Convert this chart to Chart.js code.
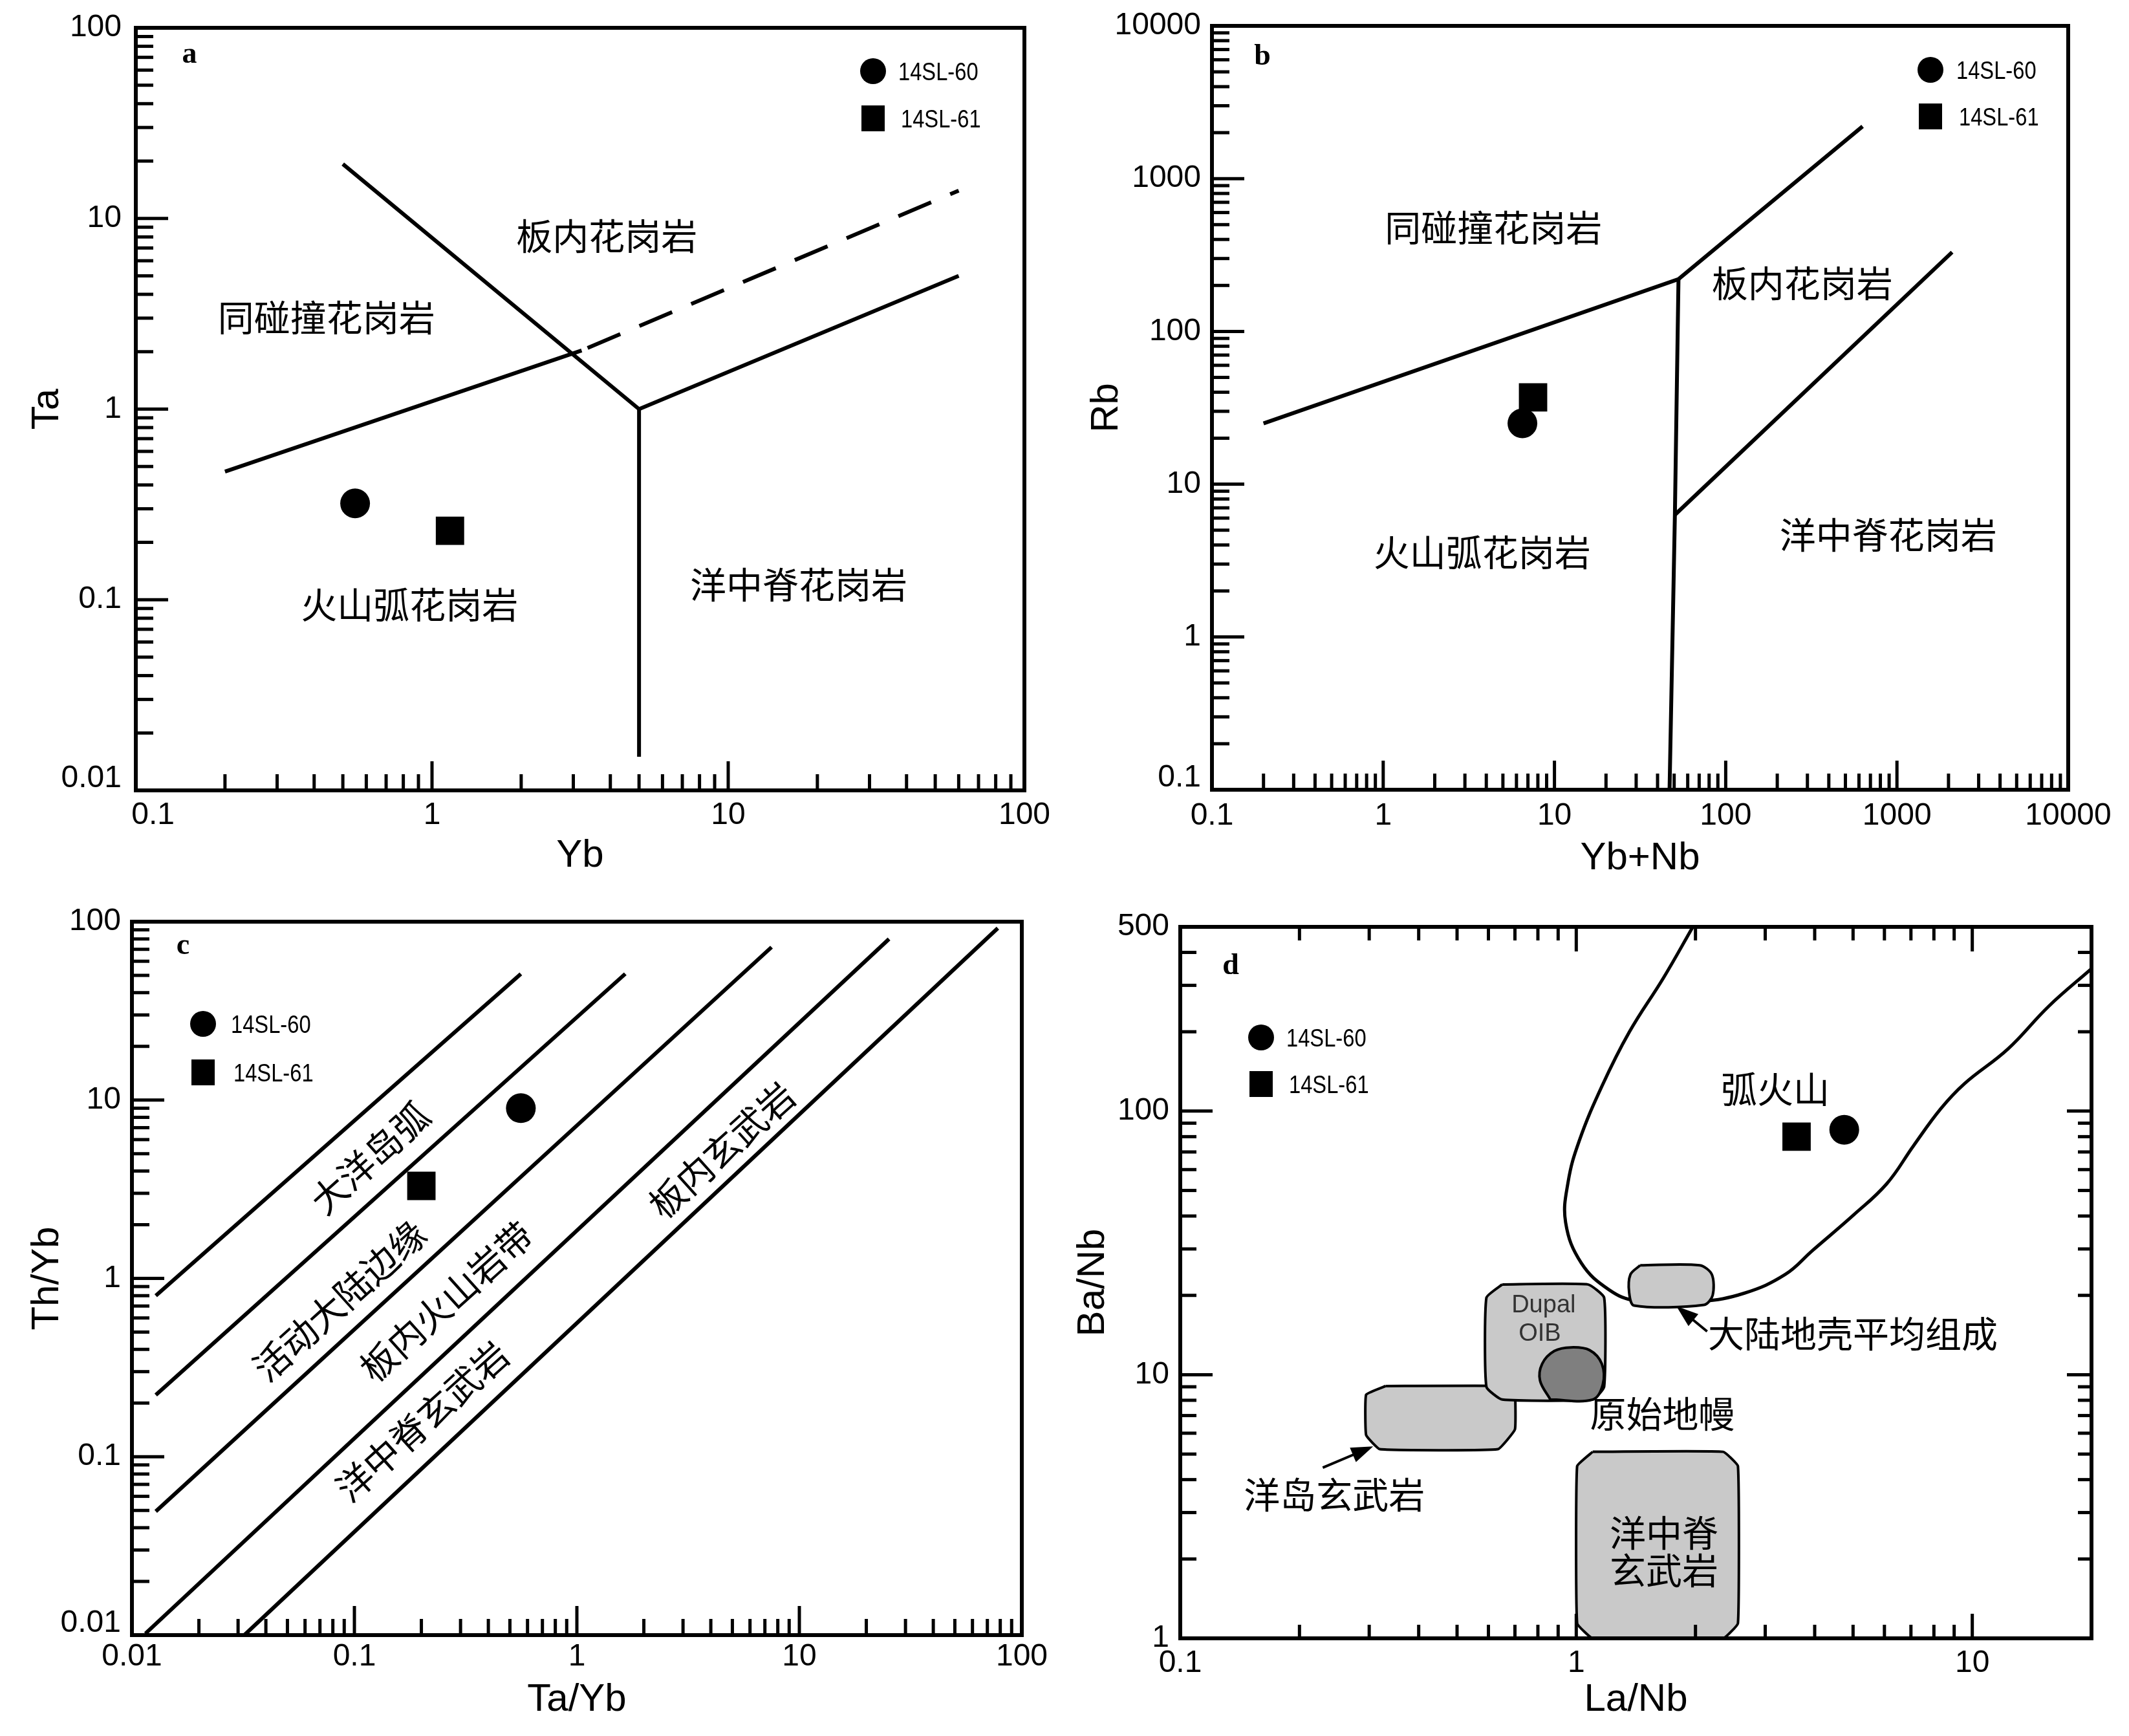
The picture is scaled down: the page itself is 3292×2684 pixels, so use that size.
<!DOCTYPE html>
<html lang="zh">
<head>
<meta charset="utf-8">
<title>Tectonic discrimination diagrams</title>
<script src="https://cdn.jsdelivr.net/npm/chart.js@4.4.1/dist/chart.umd.min.js"></script>
<style>
  html, body { margin: 0; padding: 0; background: #fff; }
  #page { position: relative; width: 3292px; height: 2684px; background: #fff; }
  #page canvas { position: absolute; }
</style>
</head>
<body>
<div id="page">
  <canvas id="chartA" width="1646" height="1380" style="left:0;top:0"></canvas>
  <canvas id="chartB" width="1646" height="1380" style="left:1646px;top:0"></canvas>
  <canvas id="chartC" width="1646" height="1304" style="left:0;top:1380px"></canvas>
  <canvas id="chartD" width="1646" height="1304" style="left:1646px;top:1380px"></canvas>
</div>
<script>
const samples = ['14SL-60', '14SL-61'];

// a) Ta vs Yb
const aXTicks = [0.1, 1, 10, 100];
const aYTicks = [0.01, 0.1, 1, 10, 100];
const aYb = [0.55, 1.15];
const aTa = [0.32, 0.23];
const aLineSynVag = [[0.2, 0.47], [3.2, 2.03]];
const aLineSynWpgDash = [[3.2, 2.03], [60, 14]];
const aLineSynUpper = [[0.5, 19.3], [5, 1]];
const aLineWpgOrg = [[5, 1], [60, 5]];
const aLineVagOrg = [[5, 1], [5, 0.015]];

// b) Rb vs Yb+Nb
const bXTicks = [0.1, 1, 10, 100, 1000, 10000];
const bYTicks = [0.1, 1, 10, 100, 1000, 10000];
const bYbNb = [6.5, 7.5];
const bRb = [25, 37];
const bLineSynVag = [[0.2, 25], [53, 220], [630, 2200]];
const bLineVagWpg = [[53, 220], [50.5, 6.3], [47, 0.1]];
const bLineWpgOrg = [[50.5, 6.3], [2100, 330]];

// c) Th/Yb vs Ta/Yb
const cXTicks = [0.01, 0.1, 1, 10, 100];
const cYTicks = [0.01, 0.1, 1, 10, 100];
const cTaYb = [0.56, 0.2];
const cThYb = [9, 3.3];
const cLine1 = [[0.0128, 0.8], [0.56, 51]];
const cLine2 = [[0.0128, 0.222], [1.65, 51]];
const cLine3 = [[0.0128, 0.0494], [7.5, 72]];
const cLine4 = [[0.0115, 0.0102], [25.3, 80]];
const cLine5 = [[0.032, 0.01], [78, 92]];

// d) Ba/Nb vs La/Nb
const dXTicks = [0.1, 1, 10];
const dYTicks = [1, 10, 100, 500];
const dLaNb = [4.75, 3.6];
const dBaNb = [85, 80];
const dArcField = [[1.97, 500], [1.66, 320], [1.36, 199], [1.16, 124], [1.017, 77], [0.954, 54], [0.94, 37.8],
  [1.03, 26.5], [1.21, 21], [1.416, 19.1], [2.06, 19.0], [2.66, 20.4], [3.37, 24.0], [3.95, 29.6], [5.0, 40.2],
  [6.08, 53], [7.11, 74], [8.32, 102], [9.55, 127], [12.3, 172], [15.6, 250], [20, 347]];
const dCrustBox = [[1.45, 26], [2.05, 26], [2.2, 24], [2.21, 20], [2.1, 18.4], [1.4, 18.3], [1.36, 20.5], [1.37, 24]];
const dDupalBox = [[0.65, 22], [1.07, 22], [1.176, 19.6], [1.176, 9.0], [1.10, 8.05], [0.65, 8.05], [0.593, 9.0], [0.593, 19.6]];
const dPrimMantle = [[0.86, 8.05], [0.81, 9.5], [0.82, 11], [0.88, 12.3], [0.97, 12.7], [1.08, 12.4], [1.16, 11], [1.167, 9.2], [1.10, 8.05]];
const dOibBox = [[0.33, 9.06], [0.68, 9.06], [0.70, 8.7], [0.70, 6.2], [0.634, 5.22], [0.319, 5.22], [0.2947, 5.9], [0.2947, 8.4]];
const dMorbBox = [[1.10, 5.1], [2.35, 5.1], [2.56, 4.5], [2.56, 1.14], [2.35, 1.0], [1.10, 1.0], [1.005, 1.14], [1.005, 4.5]];

// fonts
const SANS = "'Liberation Sans', Arial, sans-serif";
const CJK = "'Noto Sans CJK SC', sans-serif";
const xTickFont = { family: SANS, size: 48 };
const yTickFont = { family: SANS, size: 48, lineHeight: 0.75 };
const titleFont = { family: SANS, size: 60 };
const cjkFont = '56px ' + CJK;

const xy = (pairs) => pairs.map(([x, y]) => ({ x, y }));

function line(pairs, extra) {
  return Object.assign({
    data: xy(pairs), showLine: true, borderColor: '#000', borderWidth: 6,
    pointRadius: 0, pointHoverRadius: 0, fill: false, tension: 0
  }, extra);
}

function shape(pairs, color, tension) {
  return line(pairs.concat([pairs[0]]), { fill: 'shape', backgroundColor: color, borderWidth: 4, tension: tension });
}

function sample(xs, ys, i) {
  const r = i === 0 ? 23 : 31;
  return {
    data: [{ x: xs[i], y: ys[i] }], showLine: false,
    pointStyle: i === 0 ? 'circle' : 'rect', pointRadius: r, pointHoverRadius: r,
    pointBackgroundColor: '#000', pointBorderColor: '#000', pointBorderWidth: 0
  };
}

// frame, inward ticks, region names, legend and panel letter
const decor = {
  id: 'decor',
  afterDatasetsDraw(chart, args, o) {
    const { ctx, chartArea: ca } = chart;
    const xs = chart.scales.x, ys = chart.scales.y;
    ctx.save();

    const logVals = (s) => {
      const out = [];
      for (let e = Math.floor(Math.log10(s.min) - 1e-9); e <= Math.ceil(Math.log10(s.max)); e++) {
        for (let k = 1; k <= 9; k++) {
          const v = k * Math.pow(10, e);
          if (v >= s.min * 0.999 && v <= s.max * 1.001) out.push({ v, major: k === 1 });
        }
      }
      return out;
    };

    ctx.strokeStyle = '#000';
    ctx.lineWidth = 5;
    ctx.lineCap = 'butt';
    o.ticks.forEach(t => {
      const vertical = t.side === 'left' || t.side === 'right';
      const s = vertical ? ys : xs;
      logVals(s).forEach(({ v, major }) => {
        const len = major ? t.major : t.minor;
        const p = s.getPixelForValue(v);
        ctx.beginPath();
        if (t.side === 'left') { ctx.moveTo(ca.left, p); ctx.lineTo(ca.left + len, p); }
        if (t.side === 'right') { ctx.moveTo(ca.right, p); ctx.lineTo(ca.right - len, p); }
        if (t.side === 'bottom') { ctx.moveTo(p, ca.bottom); ctx.lineTo(p, ca.bottom - len); }
        if (t.side === 'top') { ctx.moveTo(p, ca.top); ctx.lineTo(p, ca.top + len); }
        ctx.stroke();
      });
    });
    ctx.lineWidth = 6;
    ctx.strokeRect(ca.left, ca.top, ca.right - ca.left, ca.bottom - ca.top);

    // region names
    o.labels.forEach(l => {
      ctx.save();
      ctx.translate(xs.getPixelForValue(l.x), ys.getPixelForValue(l.y));
      ctx.rotate((l.rot || 0) * Math.PI / 180);
      ctx.font = l.font || cjkFont;
      ctx.fillStyle = l.color || '#000';
      ctx.textAlign = l.align || 'center';
      ctx.textBaseline = 'middle';
      ctx.fillText(l.text, 0, 0);
      ctx.restore();
    });

    // arrows
    (o.arrows || []).forEach(a => {
      const x0 = xs.getPixelForValue(a.from[0]), y0 = ys.getPixelForValue(a.from[1]);
      const x1 = xs.getPixelForValue(a.to[0]), y1 = ys.getPixelForValue(a.to[1]);
      const ang = Math.atan2(y1 - y0, x1 - x0);
      const hl = 34, hw = 12;
      ctx.lineWidth = 4;
      ctx.beginPath();
      ctx.moveTo(x0, y0);
      ctx.lineTo(x1 - hl * 0.8 * Math.cos(ang), y1 - hl * 0.8 * Math.sin(ang));
      ctx.stroke();
      ctx.beginPath();
      ctx.moveTo(x1, y1);
      ctx.lineTo(x1 - hl * Math.cos(ang) + hw * Math.sin(ang), y1 - hl * Math.sin(ang) - hw * Math.cos(ang));
      ctx.lineTo(x1 - hl * Math.cos(ang) - hw * Math.sin(ang), y1 - hl * Math.sin(ang) + hw * Math.cos(ang));
      ctx.closePath();
      ctx.fillStyle = '#000';
      ctx.fill();
    });

    // legend
    const lg = o.legend;
    const cx = lg.right ? ca.right - lg.dx : ca.left + lg.dx;
    ctx.fillStyle = '#000';
    ctx.beginPath();
    ctx.arc(cx, ca.top + lg.y1, 20, 0, Math.PI * 2);
    ctx.fill();
    ctx.fillRect(cx - 18, ca.top + lg.y2 - 20, 36, 40);
    ctx.font = '38px ' + SANS;
    ctx.textAlign = 'left';
    ctx.textBaseline = 'middle';
    [lg.y1, lg.y2].forEach((yy, i) => {
      ctx.save();
      ctx.translate(cx + lg.tx + (i === 1 ? 4 : 0), ca.top + yy + 4);
      ctx.scale(0.86, 1);
      ctx.fillText(samples[i], 0, 0);
      ctx.restore();
    });

    // panel letter
    ctx.font = 'bold 46px "Liberation Serif", "Times New Roman", serif';
    ctx.textAlign = 'center';
    ctx.textBaseline = 'alphabetic';
    ctx.fillText(o.letter.text, ca.left + o.letter.dx, ca.top + o.letter.dy);
    ctx.restore();
  }
};

function axis(isX, p) {
  const min = isX ? p.xRange[0] : p.yRange[0];
  return {
    type: 'logarithmic',
    position: isX ? 'bottom' : 'left',
    min: min,
    max: isX ? p.xRange[1] : p.yRange[1],
    afterBuildTicks: s => { s.ticks = (isX ? p.xTicks : p.yTicks).map(v => ({ value: v })); },
    afterFit: s => {
      if (isX) { s.height = p.xH; s.paddingLeft = 0; s.paddingRight = 0; }
      else { s.width = p.yW; s.paddingTop = 0; s.paddingBottom = 0; }
    },
    grid: { display: false, drawTicks: false },
    border: { display: false },
    ticks: {
      autoSkip: false, maxRotation: 0, minRotation: 0,
      padding: isX ? p.xPad : p.yPad, color: '#000', font: isX ? xTickFont : yTickFont,
      callback: v => {
        // the lowest Y label sits a little above its tick, the first X label of (a) a little right
        if (!isX && v === min && p.liftMin) return [String(v), ''];
        if (isX && v === min && p.shiftMin) return '    ' + String(v);
        return String(v);
      }
    },
    title: {
      display: true, text: isX ? p.xTitle : p.yTitle, color: '#000', font: titleFont,
      padding: isX ? { top: 0, bottom: p.xTitlePad } : { top: p.yTitlePad, bottom: 0 }
    }
  };
}

function makeChart(id, p) {
  return new Chart(document.getElementById(id), {
    type: 'line',
    data: { datasets: p.datasets },
    options: {
      responsive: false,
      animation: false,
      devicePixelRatio: 1,
      events: [],
      layout: { padding: { left: 0, top: p.top, right: p.right, bottom: 0 } },
      plugins: { legend: { display: false }, tooltip: { enabled: false }, decor: p.decor },
      scales: { x: axis(true, p), y: axis(false, p) }
    },
    plugins: [decor]
  });
}

const sideTicks = [{ side: 'left', major: 50, minor: 27 }, { side: 'bottom', major: 45, minor: 25 }];

makeChart('chartA', {
  xRange: [0.1, 100], yRange: [0.01, 100], xTicks: aXTicks, yTicks: aYTicks,
  xTitle: 'Yb', yTitle: 'Ta', top: 43, right: 62, xH: 158, yW: 210,
  xPad: 10, yPad: 22, xTitlePad: 21, yTitlePad: 37, liftMin: true, shiftMin: true,
  datasets: [
    sample(aYb, aTa, 0), sample(aYb, aTa, 1),
    line(aLineSynVag), line(aLineSynWpgDash, { borderDash: [55, 32], borderDashOffset: 77 }),
    line(aLineSynUpper), line(aLineWpgOrg), line(aLineVagOrg)
  ],
  decor: {
    ticks: sideTicks,
    letter: { text: 'a', dx: 83, dy: 54 },
    legend: { right: true, dx: 234, y1: 67, y2: 140, tx: 39 },
    labels: [
      { text: '同碰撞花岗岩', x: 0.44, y: 3.03 },
      { text: '板内花岗岩', x: 3.89, y: 8.1 },
      { text: '火山弧花岗岩', x: 0.84, y: 0.094 },
      { text: '洋中脊花岗岩', x: 17.3, y: 0.12 }
    ]
  }
});

makeChart('chartB', {
  xRange: [0.1, 10000], yRange: [0.1, 10000], xTicks: bXTicks, yTicks: bYTicks,
  xTitle: 'Yb+Nb', yTitle: 'Rb', top: 40, right: 94, xH: 159, yW: 228,
  xPad: 12, yPad: 17, xTitlePad: 17, yTitlePad: 29, liftMin: true,
  datasets: [
    sample(bYbNb, bRb, 0), sample(bYbNb, bRb, 1),
    line(bLineSynVag), line(bLineVagWpg), line(bLineWpgOrg)
  ],
  decor: {
    ticks: sideTicks,
    letter: { text: 'b', dx: 78, dy: 60 },
    legend: { right: true, dx: 213, y1: 68, y2: 140, tx: 40 },
    labels: [
      { text: '同碰撞花岗岩', x: 4.4, y: 480 },
      { text: '板内花岗岩', x: 280, y: 207 },
      { text: '火山弧花岗岩', x: 3.78, y: 3.6 },
      { text: '洋中脊花岗岩', x: 889, y: 4.66 }
    ]
  }
});

makeChart('chartC', {
  xRange: [0.01, 100], yRange: [0.01, 100], xTicks: cXTicks, yTicks: cYTicks,
  xTitle: 'Ta/Yb', yTitle: 'Th/Yb', top: 45, right: 66, xH: 156, yW: 204,
  xPad: 5, yPad: 17, xTitlePad: 20, yTitlePad: 37, liftMin: true,
  datasets: [
    sample(cTaYb, cThYb, 0), sample(cTaYb, cThYb, 1),
    line(cLine1), line(cLine2), line(cLine3), line(cLine4), line(cLine5)
  ],
  decor: {
    ticks: sideTicks,
    letter: { text: 'c', dx: 79, dy: 50 },
    legend: { right: false, dx: 110, y1: 158, y2: 233, tx: 43 },
    labels: [
      { text: '大洋岛弧', x: 0.1175, y: 4.74, rot: -42 },
      { text: '活动大陆边缘', x: 0.0857, y: 0.75, rot: -42 },
      { text: '板内火山岩带', x: 0.259, y: 0.743, rot: -42 },
      { text: '洋中脊玄武岩', x: 0.2018, y: 0.158, rot: -42 },
      { text: '板内玄武岩', x: 4.48, y: 5.25, rot: -42 }
    ]
  }
});

makeChart('chartD', {
  xRange: [0.1, 20], yRange: [1, 500], xTicks: dXTicks, yTicks: dYTicks,
  xTitle: 'La/Nb', yTitle: 'Ba/Nb', top: 53, right: 58, xH: 151, yW: 179,
  xPad: 10, yPad: 17, xTitlePad: 20, yTitlePad: 8,
  datasets: [
    sample(dLaNb, dBaNb, 0), sample(dLaNb, dBaNb, 1),
    shape(dPrimMantle, '#7f7f7f', 0.35),
    shape(dDupalBox, '#c9c9c9', 0.15),
    shape(dCrustBox, '#c9c9c9', 0.3),
    shape(dOibBox, '#c9c9c9', 0.1),
    shape(dMorbBox, '#c9c9c9', 0.1),
    line(dArcField, { borderWidth: 5, tension: 0.4 })
  ],
  decor: {
    ticks: [
      { side: 'left', major: 50, minor: 25 }, { side: 'bottom', major: 38, minor: 21 },
      { side: 'right', major: 38, minor: 21 }, { side: 'top', major: 38, minor: 21 }
    ],
    letter: { text: 'd', dx: 78, dy: 73 },
    legend: { right: false, dx: 125, y1: 171, y2: 243, tx: 39 },
    labels: [
      { text: '弧火山', x: 3.18, y: 121 },
      { text: '大陆地壳平均组成', x: 2.15, y: 14.3, align: 'left' },
      { text: '原始地幔', x: 1.65, y: 7.1 },
      { text: '洋岛玄武岩', x: 0.245, y: 3.52 },
      { text: '洋中脊', x: 1.665, y: 2.52 },
      { text: '玄武岩', x: 1.665, y: 1.81 },
      { text: 'Dupal', x: 0.827, y: 18.3, font: '38px ' + SANS, color: '#333' },
      { text: 'OIB', x: 0.809, y: 14.3, font: '38px ' + SANS, color: '#333' }
    ],
    arrows: [
      { from: [2.14, 14.6], to: [1.79, 18.2] },
      { from: [0.229, 4.44], to: [0.307, 5.35] }
    ]
  }
});
</script>
</body>
</html>
